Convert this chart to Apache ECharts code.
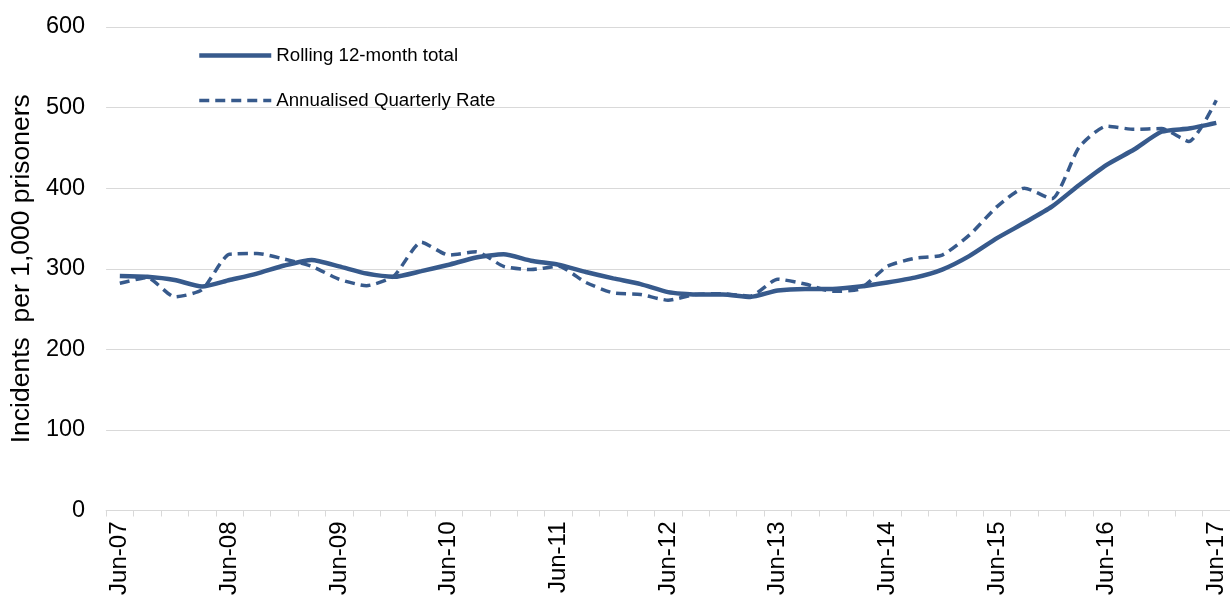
<!DOCTYPE html>
<html>
<head>
<meta charset="utf-8">
<script src="https://cdn.jsdelivr.net/npm/echarts@6/dist/echarts.min.js"></script>
<style>
    html, body { margin: 0; padding: 0; background: #fff; }
    #chart { width: 1230px; height: 599px; }
</style>
</head>
<body>
<div id="chart"></div>
<script>
// quarters, Jun-07 .. Jun-17
var quarters = [
    'Jun-07', 'Sep-07', 'Dec-07', 'Mar-08',
    'Jun-08', 'Sep-08', 'Dec-08', 'Mar-09',
    'Jun-09', 'Sep-09', 'Dec-09', 'Mar-10',
    'Jun-10', 'Sep-10', 'Dec-10', 'Mar-11',
    'Jun-11', 'Sep-11', 'Dec-11', 'Mar-12',
    'Jun-12', 'Sep-12', 'Dec-12', 'Mar-13',
    'Jun-13', 'Sep-13', 'Dec-13', 'Mar-14',
    'Jun-14', 'Sep-14', 'Dec-14', 'Mar-15',
    'Jun-15', 'Sep-15', 'Dec-15', 'Mar-16',
    'Jun-16', 'Sep-16', 'Dec-16', 'Mar-17',
    'Jun-17'
];

var rolling12 = [
    291, 290, 286, 278, 286, 294, 304, 311, 303, 294,
    290, 297, 305, 314, 318, 310, 305, 296, 288, 281,
    271, 268, 268, 265, 273, 275, 275, 278, 283, 289,
    299, 316, 338, 357, 377, 404, 429, 448, 470, 474,
    481
];

var quarterlyRate = [
    282, 289, 265, 274, 318, 319, 312, 303, 287, 279,
    291, 333, 317, 321, 303, 299, 303, 283, 270, 268,
    261, 268, 269, 266, 287, 281, 272, 275, 303, 313,
    317, 342, 377, 400, 387, 451, 477, 473, 474, 458,
    509
];

var seriesNames = ['Rolling 12-month total', 'Annualised Quarterly Rate'];

var lineColor = '#375a8c';
var gridColor = '#d9d9d9';
var font = 'Liberation Sans, Arial, sans-serif';

var chart = echarts.init(document.getElementById('chart'));

var option = {
    animation: false,
    backgroundColor: '#fff',
    textStyle: { fontFamily: font },
    grid: {
        left: 103,
        right: -4,
        top: 27,
        bottom: 88.5,
        containLabel: false
    },
    legend: {
        orient: 'vertical',
        left: 192,
        top: 41,
        itemWidth: 72,
        itemHeight: 14,
        itemGap: 26,
        itemStyle: { opacity: 0 },
        textStyle: { fontSize: 18.7, color: '#000', fontFamily: font },
        data: [
            { name: seriesNames[0], lineStyle: { width: 4.5 } },
            { name: seriesNames[1], lineStyle: { width: 3.5 } }
        ]
    },
    xAxis: {
        type: 'category',
        data: quarters,
        boundaryGap: true,
        axisLine: { lineStyle: { color: gridColor, width: 1 } },
        axisTick: { show: true, interval: 0, length: 6, lineStyle: { color: gridColor } },
        axisLabel: {
            interval: 3,
            rotate: 90,
            margin: 11,
            fontSize: 24,
            color: '#000',
            fontFamily: font
        },
        splitLine: { show: false }
    },
    yAxis: {
        type: 'value',
        min: 0,
        max: 600,
        interval: 100,
        name: 'Incidents  per 1,000 prisoners',
        nameLocation: 'middle',
        nameGap: 66,
        nameTextStyle: { fontSize: 26.5, color: '#000', fontFamily: font },
        axisLine: { show: false },
        axisTick: { show: false },
        axisLabel: { fontSize: 23.5, color: '#000', margin: 21, fontFamily: font },
        splitLine: { lineStyle: { color: gridColor, width: 1 } }
    },
    series: [
        {
            name: seriesNames[0],
            type: 'line',
            data: rolling12,
            symbol: 'none',
            smooth: 0.2,
            lineStyle: { color: lineColor, width: 4.5 },
            itemStyle: { color: lineColor },
            z: 3
        },
        {
            name: seriesNames[1],
            type: 'line',
            data: quarterlyRate,
            symbol: 'none',
            smooth: 0.2,
            lineStyle: { color: lineColor, width: 3.5, type: [10, 6] },
            itemStyle: { color: lineColor },
            z: 2
        }
    ]
};

chart.setOption(option);
</script>
</body>
</html>
